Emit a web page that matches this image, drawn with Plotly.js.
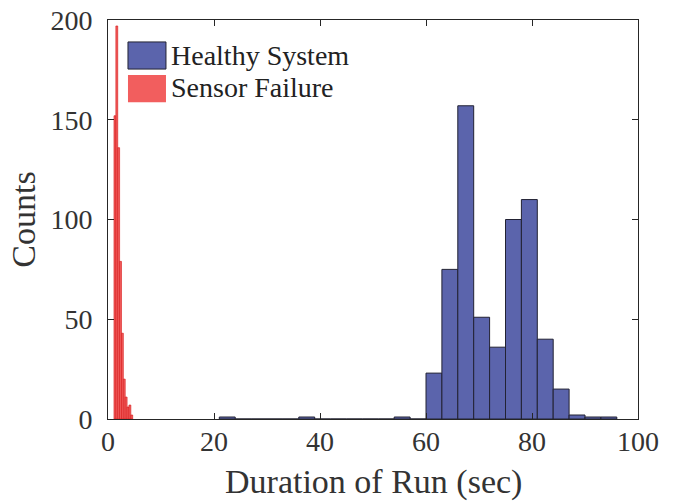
<!DOCTYPE html>
<html>
<head>
<meta charset="utf-8">
<script src="https://cdn.plot.ly/plotly-3.0.1.min.js"></script>
<style>html,body{margin:0;padding:0;background:#fff;}#chart{width:676px;height:502px;}</style>
</head>
<body>
<div id="chart"></div>
<script>
// Healthy system histogram: bin left edges (sec) and counts
const healthyBinStart = [21,24,27,30,33,36,39,42,45,48,51,54,57,60,63,66,69,72,75,78,81,84,87,90,93];
const healthyCounts   = [1,0,0,0,0,1,0,0,0,0,0,1,0,23,75,157,51,36,100,110,40,15,2,1,1];
const healthyBinWidth = 3;

// Sensor failure histogram: bin left edges (sec) and counts
const failureBinStart = [1.13,1.483,1.836,2.189,2.542,2.895,3.248,3.601,3.954,4.307];
const failureCounts   = [152,197,136,79,43,20,11,6,7,2];
const failureBinWidth = 0.353;

const seriesNames = ['Healthy System', 'Sensor Failure'];
const xTicks = [0,20,40,60,80,100];
const yTicks = [0,50,100,150,200];

const FONT = 'Liberation Serif, Times New Roman, serif';
const TXT = '#333333';

const healthy = {
  type: 'bar',
  name: seriesNames[0],
  x: healthyBinStart.map(v => v + healthyBinWidth/2),
  y: healthyCounts,
  width: healthyBinWidth,
  marker: {color: '#5B64AC', line: {color: '#222233', width: 1}},
  showlegend: false,
  hoverinfo: 'x+y'
};
const failure = {
  type: 'bar',
  name: seriesNames[1],
  x: failureBinStart.map(v => v + failureBinWidth/2),
  y: failureCounts,
  width: failureBinWidth,
  marker: {color: '#F25E5E', line: {color: 'rgba(215,25,25,0.9)', width: 0.7}},
  showlegend: false,
  hoverinfo: 'x+y'
};

const axisCommon = {
  showgrid: false, zeroline: false,
  showline: true, linecolor: '#262626', linewidth: 1,
  mirror: 'ticks', ticks: 'inside', ticklen: 6, tickwidth: 1, tickcolor: '#262626',
  tickfont: {family: FONT, size: 28, color: TXT}
};

const layout = {
  width: 676, height: 502,
  margin: {l: 108, r: 38, t: 20, b: 83},
  paper_bgcolor: '#ffffff', plot_bgcolor: '#ffffff',
  font: {family: FONT},
  barmode: 'overlay',
  bargap: 0,
  xaxis: Object.assign({}, axisCommon, {
    range: [0, 100], tickvals: xTicks, ticktext: xTicks.map(String),
    ticklabelstandoff: -3
  }),
  yaxis: Object.assign({}, axisCommon, {
    range: [0, 200], tickvals: yTicks, ticktext: yTicks.map(String),
    ticklabelstandoff: 9,
    title: {text: 'Counts', font: {family: FONT, size: 34, color: TXT}, standoff: 4}
  }),
  shapes: [
    {type: 'rect', xref: 'paper', yref: 'paper', x0: 0.0377, x1: 0.1094, y0: 0.877, y1: 0.945,
     fillcolor: '#5B64AC', line: {color: '#222233', width: 1}},
    {type: 'rect', xref: 'paper', yref: 'paper', x0: 0.0377, x1: 0.1094, y0: 0.794, y1: 0.862,
     fillcolor: '#F25E5E', line: {width: 0}}
  ],
  annotations: [
    {xref: 'paper', yref: 'paper', x: 0.115, y: 0.912, xanchor: 'left', yanchor: 'middle',
     text: seriesNames[0], showarrow: false, font: {family: FONT, size: 28, color: '#222'}},
    {xref: 'paper', yref: 'paper', x: 0.115, y: 0.830, xanchor: 'left', yanchor: 'middle',
     text: seriesNames[1], showarrow: false, font: {family: FONT, size: 28, color: '#222'}},
    {xref: 'paper', yref: 'paper', x: 0.5, y: -0.158, xanchor: 'center', yanchor: 'middle',
     text: 'Duration of Run (sec)', showarrow: false, font: {family: FONT, size: 34, color: TXT}}
  ],
  showlegend: false
};

Plotly.newPlot('chart', [healthy, failure], layout, {displayModeBar: false, staticPlot: true});
</script>
</body>
</html>
